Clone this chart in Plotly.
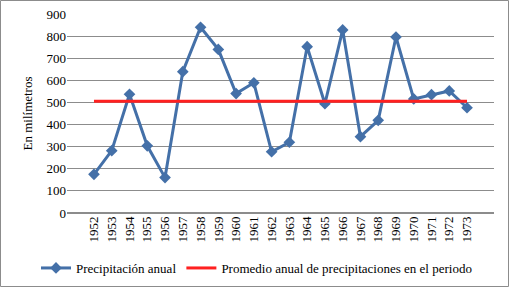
import plotly.graph_objects as go

years = [str(y) for y in range(1952, 1974)]
precip = [175, 282, 537, 304, 160, 639, 840, 740, 540, 589, 277, 320,
          752, 494, 828, 345, 419, 796, 516, 535, 552, 476]
promedio = [505] * len(years)
y_ticks = list(range(0, 1000, 100))

W, H = 509, 287
ml, mr, mt, mb = 67, 15, 14, 74
pw, ph = W - ml - mr, H - mt - mb
FONT = "Times New Roman, Liberation Serif, serif"

fig = go.Figure()
fig.add_trace(go.Scatter(x=years, y=precip, mode="lines+markers",
                         name="Precipitación anual",
                         line=dict(color="#4470A8", width=3),
                         marker=dict(symbol="diamond", size=9, color="#4470A8")))
fig.add_trace(go.Scatter(x=years, y=promedio, mode="lines",
                         name="Promedio anual de precipitaciones en el periodo",
                         line=dict(color="#FF2020", width=3)))

fig.update_layout(
    width=W, height=H,
    margin=dict(l=ml, r=mr, t=mt, b=mb, autoexpand=False),
    paper_bgcolor="white", plot_bgcolor="white",
    font=dict(family=FONT, size=13, color="black"),
    showlegend=True,
    legend=dict(orientation="h", xref="paper", x=(36 - ml) / pw, xanchor="left",
                y=(213 - 268) / ph, yanchor="middle",
                font=dict(family=FONT, size=13), itemwidth=30, tracegroupgap=0,
                bgcolor="rgba(0,0,0,0)"),
    xaxis=dict(type="category", tickangle=-90, showgrid=False, ticks="",
               showline=False, tickfont=dict(family=FONT, size=13)),
    yaxis=dict(range=[0, 900], tickvals=y_ticks, showgrid=True, gridcolor="#8c8c8c",
               gridwidth=1, zeroline=True, zerolinecolor="#8c8c8c", ticks="",
               title=dict(text="En milímetros", font=dict(family=FONT, size=13), standoff=10),
               tickfont=dict(family=FONT, size=13)),
    shapes=[dict(type="rect", xref="paper", yref="paper",
                 x0=(-ml + 0.5) / pw, x1=(pw + mr - 0.5) / pw,
                 y0=(-mb + 0.5) / ph, y1=(ph + mt - 0.5) / ph,
                 line=dict(color="#8c8c8c", width=1))],
)
fig.write_html("out.html", config={"displayModeBar": False},
               post_script="document.body.style.margin='0px';document.body.style.overflow='hidden';")
